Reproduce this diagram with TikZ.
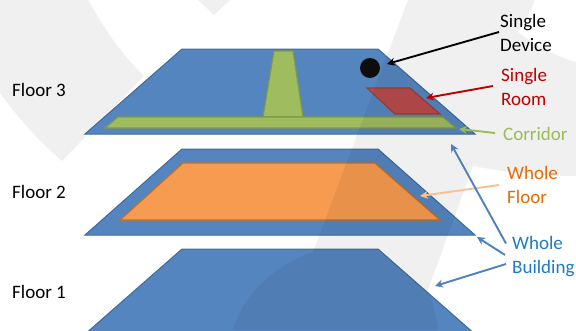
\documentclass[tikz,border=0pt]{standalone}
\usepackage{fontspec}
\setmainfont{Carlito}
\usetikzlibrary{arrows.meta}
\definecolor{flooredge}{HTML}{3F6A9C}
\definecolor{floorfill}{HTML}{5585BF}
\definecolor{greenfill}{HTML}{9FBC5E}
\definecolor{greenedge}{HTML}{7F9A48}
\definecolor{orangefill}{HTML}{F79B50}
\definecolor{orangeedge}{HTML}{C0702A}
\definecolor{redfill}{HTML}{B84C4C}
\definecolor{rededge}{HTML}{96403E}
\definecolor{roomred}{HTML}{C00000}
\definecolor{corrgreen}{HTML}{9BBB59}
\definecolor{wforange}{HTML}{E36C0A}
\definecolor{wfarrow}{HTML}{FAC090}
\definecolor{wbtext}{HTML}{1F7CC4}
\definecolor{wbarrow}{HTML}{4F81BD}
\tikzset{
  x=1pt,y=-1pt,
  floorshape/.style={fill=floorfill,draw=flooredge,line width=1pt,line join=miter},
  greenshape/.style={fill=greenfill,draw=greenedge,line width=1.2pt},
  mark layer/.style={fill=black,fill opacity=0.06,draw=none},
  lbl/.style={font=\fontsize{19}{24}\selectfont,align=left,anchor=west,inner sep=0pt},
  conn/.style={line width=1.9pt,-{Stealth[length=8pt,width=8pt]}},
}
\begin{document}
\begin{tikzpicture}
\useasboundingbox (0,0) rectangle (576,330);
\clip (0,0) rectangle (576,330);
\fill[white] (0,0) rectangle (576,330);
% watermark behind floors
\fill[black,fill opacity=0.06] (0,0) -- (88,0) .. controls (105,30) and (122,55) .. (144,76) -- (62,161) .. controls (38,140) and (18,118) .. (0,93) -- cycle;
\fill[black,fill opacity=0.06] (198,0) -- (214,15) -- (230,0) -- cycle;
% floors
\draw[floorshape] (182,49) -- (378,49) -- (475,134) -- (85,134) -- cycle;
\draw[floorshape] (182,149) -- (378,149) -- (475,235) -- (85,235) -- cycle;
\draw[floorshape] (182,249) -- (378,249) -- (476,335) -- (84,335) -- cycle;
% floor 3 contents
\draw[greenshape] (274,51) -- (293,51) -- (303,117) -- (263,117) -- cycle;
\draw[greenshape] (118,117) -- (443,117) -- (456,128) -- (105,128) -- cycle;
\draw[fill=redfill,draw=rededge,line width=1.2pt] (367,88) -- (410,88) -- (440,114) -- (395,114) -- cycle;
\node[circle,fill=black!95,minimum size=20pt,inner sep=0pt] (device) at (370,68) {};
% floor 2 contents
\draw[fill=orangefill,draw=orangeedge,line width=1.2pt] (183,163) -- (375,163) -- (440,220) -- (120,220) -- cycle;
% watermark over floors
\fill[mark layer] (408,0) -- (535,0) .. controls (530,12) and (525,22) .. (518,32) .. controls (536,46) and (555,56) .. (576,62) -- (576,176) .. controls (540,176) and (505,172) .. (473,166) -- (428,290) .. controls (433,303) and (436,316) .. (438,330) -- (233,330) .. controls (243,296) and (272,266) .. (313,252) -- cycle;
% labels
\node[lbl] (f3) at (12,90) {Floor 3};
\node[lbl] (f2) at (12,192) {Floor 2};
\node[lbl] (f1) at (12,292) {Floor 1};
\node[lbl] (sd) at (500,33) {Single\\Device};
\node[lbl,text=roomred] (sr) at (501,86.5) {Single\\Room};
\node[lbl,text=corrgreen] (co) at (503,134) {Corridor};
\node[lbl,text=wforange] (wf) at (507,185) {Whole\\Floor};
\node[lbl,text=wbtext] (wb) at (512,256.5) {Whole\\Building};
% connector ends
\coordinate (sdH) at (387,64);
\coordinate (srH) at (426,98);
\coordinate (coH) at (459,129);
\coordinate (wfH) at (420,196);
\coordinate (wbA) at (451,144);
\coordinate (wbB) at (477,237);
\coordinate (wbC) at (435,286);
\draw[conn,draw=black] (sd.west) ++(-1,-1) -- (sdH);
\draw[conn,draw=roomred] (sr.west) ++(-8,-0.5) -- (srH);
\draw[conn,draw=corrgreen] (co.west) ++(-8,-1) -- (coH);
\draw[conn,draw=wfarrow] (wf.west) ++(-8,0) -- (wfH);
\draw[conn,draw=wbarrow] (wb.west) ++(-6,-13) -- (wbA);
\draw[conn,draw=wbarrow] (wb.west) ++(-7,-1.5) -- (wbB);
\draw[conn,draw=wbarrow] (wb.west) ++(-6,7.5) -- (wbC);
\end{tikzpicture}
\end{document}
